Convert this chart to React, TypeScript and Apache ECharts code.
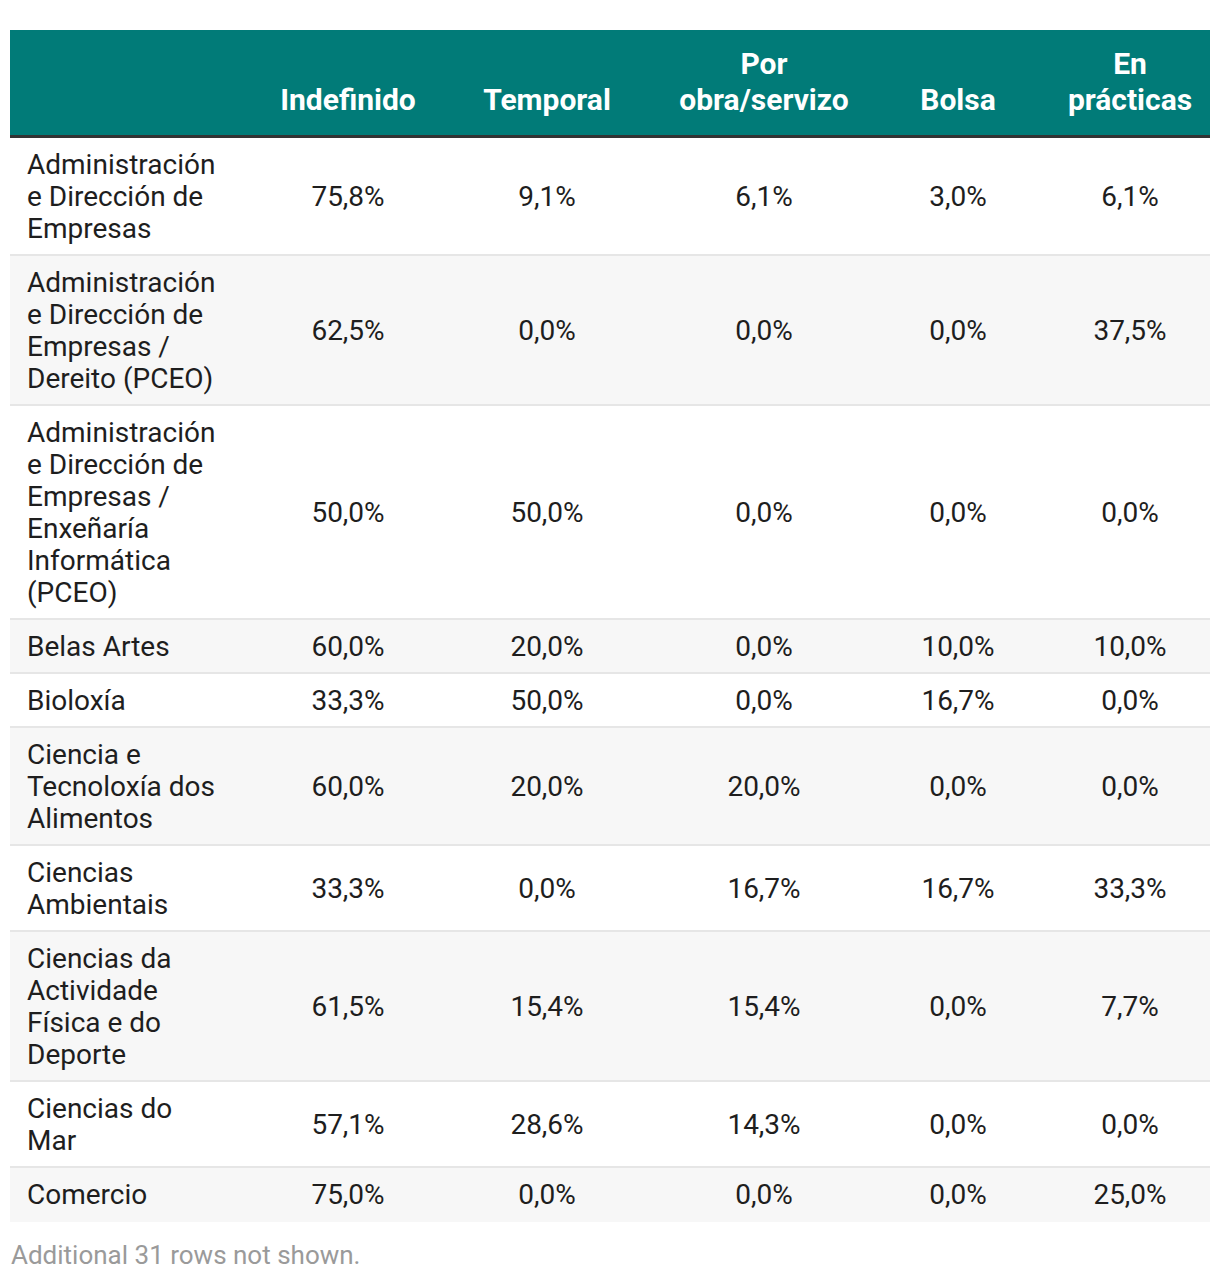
import React, { useEffect, useRef } from "react";
import * as echarts from "echarts";

const headers = ["Indefinido", "Temporal", "Por\nobra/servizo", "Bolsa", "En\nprácticas"];
const categories = [
  "Administración\ne Dirección de\nEmpresas",
  "Administración\ne Dirección de\nEmpresas /\nDereito (PCEO)",
  "Administración\ne Dirección de\nEmpresas /\nEnxeñaría\nInformática\n(PCEO)",
  "Belas Artes",
  "Bioloxía",
  "Ciencia e\nTecnoloxía dos\nAlimentos",
  "Ciencias\nAmbientais",
  "Ciencias da\nActividade\nFísica e do\nDeporte",
  "Ciencias do\nMar",
  "Comercio",
];
const indefinido = [75.8, 62.5, 50.0, 60.0, 33.3, 60.0, 33.3, 61.5, 57.1, 75.0];
const temporal = [9.1, 0.0, 50.0, 20.0, 50.0, 20.0, 0.0, 15.4, 28.6, 0.0];
const porObra = [6.1, 0.0, 0.0, 0.0, 0.0, 20.0, 16.7, 15.4, 14.3, 0.0];
const bolsa = [3.0, 0.0, 0.0, 10.0, 16.7, 0.0, 16.7, 0.0, 0.0, 0.0];
const enPracticas = [6.1, 37.5, 0.0, 10.0, 0.0, 0.0, 33.3, 7.7, 0.0, 25.0];
const footerNote = "Additional 31 rows not shown.";

const fmt = (v: number) => v.toFixed(1).replace(".", ",") + "%";

function buildGraphics() {
  const left = 10;
  const width = 1200;
  const headerTop = 30;
  const headerBottom = 135;
  const font = "Roboto, 'Noto Sans', sans-serif";
  const colCenters = [348, 547, 764, 958, 1130];
  const series = [indefinido, temporal, porObra, bolsa, enPracticas];
  const els: any[] = [];

  els.push({ type: "rect", shape: { x: left, y: headerTop, width, height: headerBottom - headerTop }, style: { fill: "#017b78" } });
  els.push({ type: "rect", shape: { x: left, y: headerBottom, width, height: 3 }, style: { fill: "#333333" } });
  headers.forEach((h, i) => {
    els.push({
      type: "text",
      x: colCenters[i],
      y: 117,
      style: {
        text: h,
        fill: "#ffffff",
        font: `bold 30px ${font}`,
        lineHeight: 36,
        align: "center",
        verticalAlign: "bottom",
      },
    });
  });

  let y = headerBottom + 3;
  categories.forEach((c, r) => {
    const lines = c.split("\n").length;
    const h = 32 * lines + 22;
    const last = r === categories.length - 1;
    els.push({ type: "rect", shape: { x: left, y, width, height: h }, style: { fill: r % 2 === 1 ? "#f7f7f7" : "#ffffff" } });
    if (!last) {
      els.push({ type: "rect", shape: { x: left, y: y + h - 2, width, height: 2 }, style: { fill: "#e6e6e6" } });
    }
    const cy = y + (h - 2) / 2;
    els.push({
      type: "text",
      x: 27,
      y: cy,
      style: { text: c, fill: "#1e1e1e", font: `28px ${font}`, lineHeight: 32, align: "left", verticalAlign: "middle" },
    });
    series.forEach((s, i) => {
      els.push({
        type: "text",
        x: colCenters[i],
        y: cy,
        style: { text: fmt(s[r]), fill: "#1e1e1e", font: `28px ${font}`, lineHeight: 32, align: "center", verticalAlign: "middle" },
      });
    });
    y += h;
  });

  els.push({
    type: "text",
    x: 11,
    y: 1255,
    style: { text: footerNote, fill: "#9a9a9a", font: `26px ${font}`, align: "left", verticalAlign: "middle" },
  });
  return els;
}

export default function App() {
  const ref = useRef<HTMLDivElement>(null);
  useEffect(() => {
    if (!ref.current) return;
    const chart = echarts.init(ref.current, null, { renderer: "svg" });
    chart.setOption({
      animation: false,
      backgroundColor: "#ffffff",
      graphic: { elements: buildGraphics() },
    });
    return () => chart.dispose();
  }, []);
  return <div ref={ref} style={{ position: "absolute", left: 0, top: 0, width: 1220, height: 1280 }} />;
}
